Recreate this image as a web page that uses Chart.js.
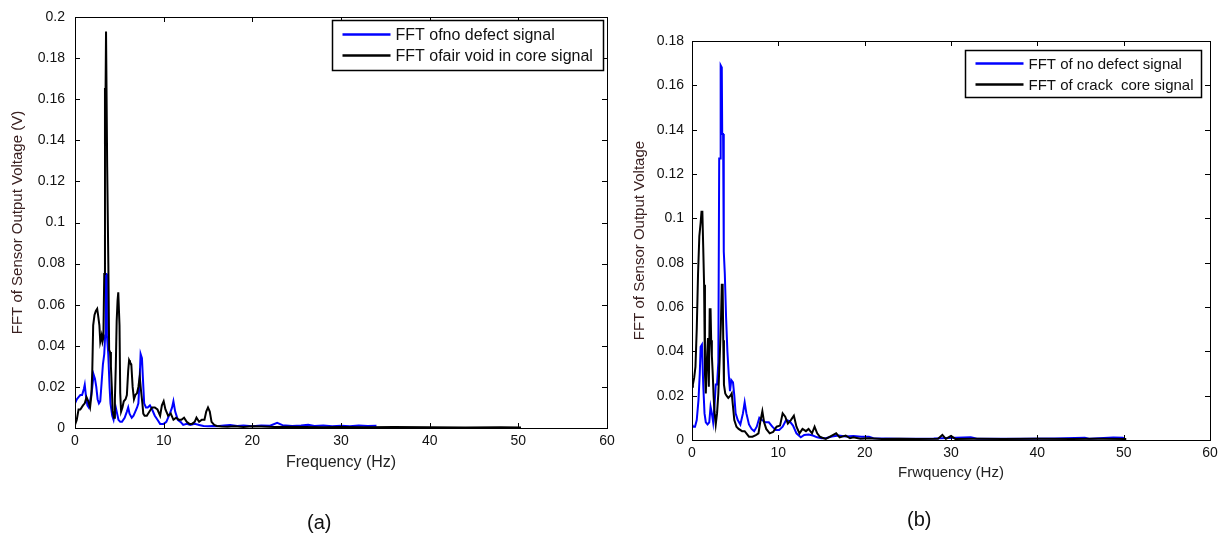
<!DOCTYPE html>
<html>
<head>
<meta charset="utf-8">
<script src="https://cdn.jsdelivr.net/npm/chart.js@4.4.1/dist/chart.umd.min.js"></script>
<style>
  body { margin: 0; background: #fff; width: 1229px; height: 537px; position: relative; overflow: hidden;
         font-family: "Liberation Sans", Arial, sans-serif; }
  canvas { position: absolute; top: 0; }
  #chartA { left: 0; }
  #chartB { left: 615px; }
  .caption { position: absolute; font-size: 20px; color: #111; }
</style>
</head>
<body>
<canvas id="chartA" width="615" height="537"></canvas>
<canvas id="chartB" width="614" height="537"></canvas>
<div class="caption" style="left:307px; top:511px;">(a)</div>
<div class="caption" style="left:907px; top:508px;">(b)</div>
<script>
// [frequency Hz, FFT magnitude V]
const aNoDefect = [[0,0.012],[0.2,0.014],[0.4,0.015],[0.6,0.016],[0.8,0.016],[1.0,0.019],[1.1,0.021],[1.25,0.015],
  [1.4,0.011],[1.55,0.010],[1.7,0.013],[1.9,0.018],[2.1,0.026],[2.25,0.024],[2.4,0.020],[2.55,0.014],[2.7,0.012],
  [2.85,0.013],[3.0,0.022],[3.15,0.031],[3.3,0.036],[3.4,0.045],[3.47,0.075],[3.53,0.075],[3.6,0.045],[3.75,0.036],
  [3.9,0.020],[4.0,0.012],[4.2,0.006],[4.35,0.004],[4.5,0.008],[4.6,0.010],[4.75,0.007],[4.9,0.004],[5.1,0.003],
  [5.3,0.003],[5.6,0.005],[5.85,0.008],[6.0,0.010],[6.15,0.007],[6.4,0.005],[6.6,0.006],[6.8,0.008],[7.0,0.010],
  [7.15,0.012],[7.3,0.025],[7.4,0.036],[7.55,0.034],[7.65,0.025],[7.8,0.012],[8.0,0.010],[8.2,0.010],[8.45,0.011],
  [8.7,0.009],[9.0,0.006],[9.3,0.004],[9.6,0.002],[10.0,0.002],[10.3,0.003],[10.7,0.007],[10.95,0.010],[11.1,0.013],
  [11.3,0.008],[11.6,0.004],[11.9,0.003],[12.2,0.0015],[12.6,0.002],[13.0,0.0015],[13.5,0.002],[14.0,0.0015],
  [14.5,0.001],[15.0,0.0008],[15.5,0.001],[16.0,0.0009],[16.8,0.0012],[17.5,0.0015],[18.3,0.001],[19.0,0.0012],
  [20.0,0.0009],[21.0,0.0012],[22.0,0.0011],[22.8,0.0025],[23.4,0.0014],[24.5,0.001],[25.5,0.0012],[26.3,0.0016],
  [27.0,0.001],[28.0,0.0012],[29.0,0.0009],[30.0,0.0011],[31.0,0.0009],[32.0,0.0012],[33.0,0.001],[34.0,0.0011]];

const aAirVoid = [[0,0.0015],[0.2,0.004],[0.4,0.009],[0.6,0.009],[0.9,0.011],[1.1,0.012],[1.3,0.015],[1.5,0.013],
  [1.7,0.010],[1.85,0.016],[1.95,0.028],[2.05,0.050],[2.2,0.055],[2.35,0.057],[2.5,0.058],[2.6,0.055],[2.75,0.050],
  [2.85,0.042],[3.0,0.045],[3.1,0.042],[3.2,0.044],[3.3,0.075],[3.38,0.165],[3.45,0.165],[3.5,0.193],[3.58,0.193],
  [3.63,0.127],[3.7,0.127],[3.76,0.080],[3.85,0.038],[3.95,0.037],[4.05,0.030],[4.15,0.020],[4.25,0.008],[4.4,0.005],
  [4.5,0.014],[4.6,0.030],[4.7,0.052],[4.8,0.062],[4.88,0.066],[4.95,0.066],[5.02,0.050],[5.1,0.017],[5.2,0.008],
  [5.35,0.010],[5.5,0.013],[5.7,0.014],[5.85,0.016],[6.0,0.028],[6.1,0.033],[6.2,0.032],[6.35,0.031],[6.5,0.020],
  [6.65,0.014],[6.8,0.016],[7.0,0.017],[7.15,0.020],[7.3,0.025],[7.45,0.018],[7.6,0.012],[7.7,0.007],[7.85,0.006],
  [8.1,0.006],[8.4,0.008],[8.7,0.010],[9.0,0.010],[9.3,0.009],[9.6,0.006],[9.8,0.011],[10.0,0.013],[10.2,0.009],
  [10.5,0.006],[10.8,0.007],[11.1,0.004],[11.4,0.005],[11.7,0.004],[12.0,0.004],[12.3,0.005],[12.6,0.003],
  [12.9,0.002],[13.2,0.002],[13.5,0.003],[13.7,0.005],[14.0,0.003],[14.3,0.004],[14.6,0.004],[14.8,0.008],
  [15.0,0.010],[15.2,0.008],[15.4,0.003],[15.7,0.0015],[16.0,0.001],[16.5,0.0007],[17.2,0.0006],[18.0,0.0008],
  [19.0,0.0005],[20.0,0.0009],[21.0,0.0007],[22.5,0.0005],[24,0.0006],[26,0.0005],[28,0.0004],[30,0.0005],
  [33,0.0004],[36,0.0005],[40,0.0004],[44,0.0003],[48,0.0004],[50.3,0.0003]];

const bNoDefect = [[0,0.007],[0.15,0.006],[0.35,0.006],[0.55,0.009],[0.75,0.018],[0.9,0.030],[1.0,0.042],[1.15,0.043],
  [1.3,0.025],[1.45,0.012],[1.6,0.008],[1.8,0.007],[2.0,0.008],[2.15,0.015],[2.3,0.012],[2.45,0.008],[2.6,0.015],
  [2.75,0.025],[2.9,0.025],[3.05,0.035],[3.15,0.127],[3.25,0.127],[3.32,0.169],[3.45,0.168],[3.5,0.138],[3.6,0.138],
  [3.68,0.085],[3.8,0.075],[3.95,0.055],[4.1,0.040],[4.25,0.030],[4.4,0.022],[4.55,0.027],[4.75,0.026],[4.9,0.020],
  [5.05,0.012],[5.3,0.009],[5.6,0.007],[5.9,0.012],[6.1,0.017],[6.3,0.012],[6.6,0.007],[6.9,0.005],[7.2,0.004],
  [7.5,0.006],[7.8,0.010],[8.1,0.009],[8.5,0.008],[8.9,0.008],[9.3,0.006],[9.7,0.0045],[10.1,0.0045],[10.5,0.006],
  [10.9,0.009],[11.3,0.0085],[11.7,0.0065],[12.1,0.003],[12.6,0.0012],[13.0,0.0023],[13.5,0.0025],[14.0,0.002],
  [14.5,0.0012],[15.0,0.0008],[15.5,0.0008],[16.2,0.0016],[17.0,0.002],[17.8,0.0016],[18.7,0.0018],[19.6,0.0015],
  [20.5,0.0015],[21,0.0008],[24,0.0006],[28,0.0007],[32.3,0.0012],[33,0.0006],[38,0.0006],[42,0.0007],[45.5,0.001],
  [46,0.0006],[48.8,0.0011],[49.9,0.001],[50.1,0.0006]];

const bCrack = [[0,0.024],[0.1,0.025],[0.25,0.028],[0.4,0.033],[0.55,0.050],[0.7,0.075],[0.85,0.092],[1.0,0.098],
  [1.1,0.103],[1.2,0.103],[1.3,0.087],[1.4,0.070],[1.5,0.030],[1.6,0.021],[1.72,0.036],[1.85,0.046],[1.95,0.024],
  [2.05,0.059],[2.15,0.059],[2.22,0.045],[2.3,0.038],[2.4,0.030],[2.5,0.020],[2.6,0.013],[2.75,0.007],[2.9,0.012],
  [3.05,0.021],[3.2,0.036],[3.35,0.053],[3.45,0.070],[3.55,0.070],[3.62,0.045],[3.7,0.025],[3.85,0.021],[4.0,0.020],
  [4.2,0.019],[4.45,0.020],[4.6,0.021],[4.75,0.015],[4.9,0.009],[5.15,0.006],[5.4,0.005],[5.8,0.004],[6.1,0.004],
  [6.3,0.003],[6.6,0.0015],[7.0,0.0015],[7.4,0.0022],[7.7,0.003],[7.9,0.008],[8.15,0.013],[8.35,0.008],[8.6,0.005],
  [9.0,0.003],[9.4,0.0036],[9.8,0.006],[10.2,0.0065],[10.5,0.012],[10.8,0.0105],[11.1,0.0074],[11.45,0.009],
  [11.8,0.011],[12.1,0.006],[12.45,0.003],[12.8,0.005],[13.2,0.004],[13.5,0.005],[13.9,0.003],[14.2,0.006],
  [14.5,0.003],[14.8,0.0015],[15.1,0.001],[15.5,0.0005],[16.2,0.002],[16.7,0.003],[17.1,0.0012],[17.8,0.002],
  [18.3,0.0008],[18.7,0.0012],[19.5,0.0006],[20.5,0.0008],[22,0.0005],[24,0.0006],[26,0.0005],[28.5,0.0006],
  [29.0,0.0023],[29.4,0.0005],[30.0,0.0018],[30.5,0.0005],[33,0.0006],[36,0.0005],[40,0.0006],[44,0.0005],
  [47,0.0006],[50.3,0.0005]];

const freqTicks = [0, 10, 20, 30, 40, 50, 60];
const aVoltTicks = [0, 0.02, 0.04, 0.06, 0.08, 0.1, 0.12, 0.14, 0.16, 0.18, 0.2];
const bVoltTicks = [0, 0.02, 0.04, 0.06, 0.08, 0.1, 0.12, 0.14, 0.16, 0.18];

const FONT = '"Liberation Sans", Arial, sans-serif';
const toPoints = arr => arr.map(([x, y]) => ({ x, y }));

// axes box with inward tick marks on all four sides
const axesBox = {
  id: 'axesBox',
  afterDatasetsDraw(chart) {
    const { ctx, chartArea: a, scales: { x, y } } = chart;
    const len = 5;
    ctx.save();
    ctx.strokeStyle = '#000';
    ctx.lineWidth = 1;
    ctx.beginPath();
    x.ticks.forEach(t => {
      const px = Math.round(x.getPixelForValue(t.value)) + 0.5;
      ctx.moveTo(px, a.bottom); ctx.lineTo(px, a.bottom - len);
      ctx.moveTo(px, a.top); ctx.lineTo(px, a.top + len);
    });
    y.ticks.forEach(t => {
      const py = Math.round(y.getPixelForValue(t.value)) + 0.5;
      ctx.moveTo(a.left, py); ctx.lineTo(a.left + len, py);
      ctx.moveTo(a.right, py); ctx.lineTo(a.right - len, py);
    });
    ctx.stroke();
    ctx.strokeRect(Math.round(a.left) + 0.5, Math.round(a.top) + 0.5, Math.round(a.width), Math.round(a.height));
    ctx.restore();
  }
};

// boxed legend in the upper right of the plot
const boxLegend = {
  id: 'boxLegend',
  afterDraw(chart, args, opts) {
    const { ctx, chartArea: a } = chart;
    const left = Math.round(a.right - opts.right - opts.width) + 0.5;
    const top = Math.round(a.top + opts.top) + 0.5;
    ctx.save();
    ctx.fillStyle = '#fff';
    ctx.fillRect(left, top, opts.width, opts.height);
    ctx.strokeStyle = '#000';
    ctx.lineWidth = 1.5;
    ctx.strokeRect(left, top, opts.width, opts.height);
    ctx.font = opts.fontSize + 'px ' + FONT;
    ctx.textBaseline = 'middle';
    chart.data.datasets.forEach((ds, i) => {
      const cy = top + opts.rowTop + i * opts.rowGap;
      ctx.strokeStyle = ds.borderColor;
      ctx.lineWidth = 2.5;
      ctx.beginPath();
      ctx.moveTo(left + 10, cy);
      ctx.lineTo(left + 58, cy);
      ctx.stroke();
      ctx.fillStyle = '#111';
      ctx.fillText(ds.label, left + 63, cy + 1);
    });
    ctx.restore();
  }
};

function makeChart(id, cfg) {
  return new Chart(document.getElementById(id), {
    type: 'line',
    data: {
      datasets: [
        { label: cfg.labels[0], data: toPoints(cfg.series[0]), borderColor: '#0000ff', borderWidth: 2, order: 1 },
        { label: cfg.labels[1], data: toPoints(cfg.series[1]), borderColor: '#000000', borderWidth: 2, order: 0 }
      ]
    },
    options: {
      responsive: false,
      animation: false,
      parsing: false,
      elements: { point: { radius: 0 }, line: { tension: 0, borderJoinStyle: 'miter' } },
      layout: { padding: cfg.padding },
      plugins: {
        legend: { display: false },
        tooltip: { enabled: false },
        boxLegend: cfg.legend
      },
      scales: {
        x: {
          type: 'linear', min: 0, max: 60,
          grid: { display: false, drawTicks: false },
          border: { display: false },
          afterBuildTicks: s => { s.ticks = freqTicks.map(v => ({ value: v })); },
          afterFit: s => { s.height = cfg.xHeight; s.paddingLeft = 0; s.paddingRight = 0; },
          ticks: { padding: 5, color: '#111', font: { family: FONT, size: 14 }, maxRotation: 0 },
          title: { display: true, text: cfg.xTitle, padding: 0, color: '#222',
                   font: { family: FONT, size: cfg.xTitleSize, lineHeight: 1.2 } }
        },
        y: {
          min: 0, max: cfg.yTicks[cfg.yTicks.length - 1],
          grid: { display: false, drawTicks: false },
          border: { display: false },
          afterBuildTicks: s => { s.ticks = cfg.yTicks.map(v => ({ value: v })); },
          afterFit: s => { s.width = cfg.yWidth; s.paddingTop = 0; s.paddingBottom = 0; },
          ticks: { padding: cfg.yPad, color: '#111', font: { family: FONT, size: 14 },
                   callback: v => String(+v.toFixed(2)) },
          title: { display: true, text: cfg.yTitle, padding: 0, color: '#3a2020',
                   font: { family: FONT, size: 15, lineHeight: 1.2 } }
        }
      }
    },
    plugins: [axesBox, boxLegend]
  });
}

makeChart('chartA', {
  series: [aNoDefect, aAirVoid],
  labels: ['FFT ofno defect signal', 'FFT ofair void in core signal'],
  yTicks: aVoltTicks,
  xTitle: 'Frequency (Hz)', xTitleSize: 16,
  yTitle: 'FFT of Sensor Output Voltage (V)',
  padding: { left: 9, right: 8, top: 17, bottom: 65 },
  yWidth: 66, xHeight: 44, yPad: 10,
  legend: { right: 4, top: 3, width: 271, height: 50, rowTop: 14, rowGap: 21, fontSize: 16 }
});

makeChart('chartB', {
  series: [bNoDefect, bCrack],
  labels: ['FFT of no defect signal', 'FFT of crack  core signal'],
  yTicks: bVoltTicks,
  xTitle: 'Frwquency (Hz)', xTitleSize: 15,
  yTitle: 'FFT of Sensor Output Voltage',
  padding: { left: 16, right: 19, top: 41, bottom: 55 },
  yWidth: 61, xHeight: 42, yPad: 8,
  legend: { right: 9, top: 9, width: 236, height: 47, rowTop: 13, rowGap: 21, fontSize: 15 }
});
</script>
</body>
</html>
